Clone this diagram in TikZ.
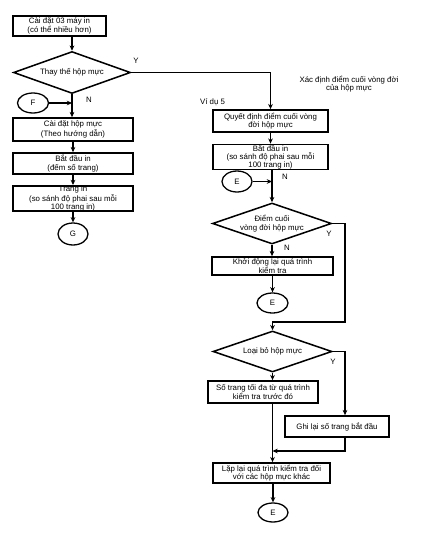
\documentclass[tikz,border=0pt]{standalone}
\usepackage{fontspec}
\setmainfont{Liberation Sans}
\usetikzlibrary{arrows.meta, positioning, shapes.geometric, calc}

\begin{document}
\begin{tikzpicture}[x=0.03cm, y=-0.03cm,
    every node/.style={font=\fontsize{6.7}{7.1}\selectfont, align=center},
    box/.style={draw, rectangle, line width=1.4pt, inner sep=0pt},
    decision/.style={draw, diamond, aspect=2.8, line width=1.3pt, inner sep=0pt},
    onpage/.style={draw, ellipse, line width=1.1pt, inner sep=0pt},
    flow/.style={line width=1pt, -{Stealth[length=4.5pt, width=4pt]}}]
    \useasboundingbox (0,0) rectangle (422,534);

    % Left column: printers and cartridges
    \node[box, minimum width=2.79cm, minimum height=0.6cm] (setup) at (59.5,26) {Cài đặt 03 máy in\\(có thể nhiều hơn)};
    \node[decision, minimum width=3.51cm, minimum height=1.26cm] (replace) at (72,72.5) {Thay thế hộp mực};
    \node[onpage, minimum width=0.93cm, minimum height=0.6cm] (F) at (33,103) {F};
    \node[box, minimum width=3.6cm, minimum height=0.69cm] (install) at (73,129.5) {Cài đặt hộp mực\\(Theo hướng dẫn)};
    \node[box, minimum width=3.6cm, minimum height=0.63cm] (startA) at (73,163.5) {Bắt đầu in\\(đếm số trang)};
    \node[box, minimum width=3.6cm, minimum height=0.63cm] (pagesA) at (73,198.5) {Trang in\\(so sánh độ phai sau mỗi\\100 trang in)};
    \node[onpage, minimum width=0.9cm, minimum height=0.66cm] (G) at (73,234) {G};

    % Right column: end of cartridge life
    \node (goal) at (349,84) {Xác định điểm cuối vòng đời\\của hộp mực};
    \node[anchor=west] (example) at (196,102) {Ví dụ 5};
    \node[box, minimum width=3.45cm, minimum height=0.66cm] (decide) at (270.5,121) {Quyết định điểm cuối vòng\\đời hộp mực};
    \node[box, minimum width=3.45cm, minimum height=0.72cm] (startB) at (270.5,157) {Bắt đầu in\\(so sánh độ phai sau mỗi\\100 trang in)};
    \node[onpage, minimum width=0.9cm, minimum height=0.63cm] (E1) at (237,181.5) {E};
    \node[decision, minimum width=3.57cm, minimum height=1.23cm] (endlife) at (272,223.5) {Điểm cuối\\vòng đời hộp mực};
    \node[box, minimum width=3.63cm, minimum height=0.54cm] (restart) at (272.5,266) {Khởi động lại quá trình\\kiểm tra};
    \node[onpage, minimum width=0.93cm, minimum height=0.6cm] (E2) at (272.5,303) {E};
    \node[decision, minimum width=3.57cm, minimum height=1.23cm] (discard) at (272.5,351.5) {Loại bỏ hộp mực};
    \node[box, minimum width=3.3cm, minimum height=0.66cm] (maxpages) at (263,392) {Số trang tối đa từ quá trình\\kiểm tra trước đó};
    \node[box, minimum width=3.12cm, minimum height=0.63cm] (record) at (337,426.5) {Ghi lại số trang bắt đầu};
    \node[box, minimum width=3.51cm, minimum height=0.6cm] (repeat) at (271.5,473) {Lặp lại quá trình kiểm tra đối\\với các hộp mực khác};
    \node[onpage, minimum width=0.9cm, minimum height=0.57cm] (E3) at (273,512.5) {E};
    \coordinate (rail) at (345,322);
    \coordinate (railB) at (345,451);

    % Yes / no labels
    \node (yesA) at (136,61) {Y};
    \node (noA) at (89,100) {N};
    \node (noB) at (285,177) {N};
    \node (yesB) at (329,234) {Y};
    \node (noC) at (287,248) {N};
    \node (yesC) at (333,362) {Y};

    % Connectors, left
    \draw[flow] (replace.north |- setup.south) -- (replace.north);
    \draw[flow] (replace.east) -- (replace.east -| decide.north) -- (decide.north);
    \draw[flow] (replace.south) -- (replace.south |- install.north);
    \draw[flow] (F.east) -- (F.east -| replace.south);
    \draw[flow] (install) -- (startA);
    \draw[flow] (startA) -- (pagesA);
    \draw[flow] (pagesA) -- (G);

    % Connectors, right
    \draw[flow] (decide) -- (startB);
    \draw[flow] (endlife.north |- startB.south) -- (endlife.north);
    \draw[flow] (E1.east) -- (E1.east -| endlife.north);
    \draw[flow] (endlife.south) -- (endlife.south |- restart.north);
    \draw[flow] (E2.north |- restart.south) -- (E2.north);
    \draw[flow] (endlife.east) -| (rail) -- (rail -| discard.north) -- (discard.north);
    \draw[flow] (discard.south) -- (discard.south |- maxpages.north);
    \draw[flow] (discard.east) -| (rail |- record.north);
    \draw[flow] (discard.south |- maxpages.south) -- (discard.south |- repeat.north);
    \draw[flow] (rail |- record.south) -- (railB) -- (railB -| discard.south);
    \draw[flow] (E3.north |- repeat.south) -- (E3.north);
\end{tikzpicture}
\end{document}
